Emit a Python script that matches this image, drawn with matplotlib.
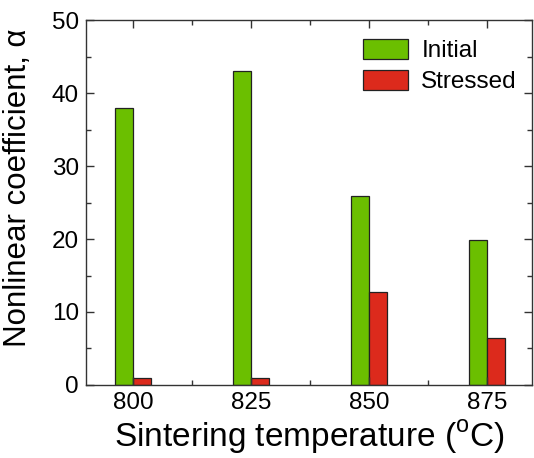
import numpy as np
import matplotlib
matplotlib.use('Agg')
import matplotlib.pyplot as plt
from matplotlib.ticker import MultipleLocator

plt.rcParams['font.family'] = ['Liberation Sans', 'DejaVu Sans']
plt.rcParams['mathtext.fontset'] = 'custom'
plt.rcParams['mathtext.rm'] = 'Liberation Sans'

# data
temps = ['800', '825', '850', '875']
initial = [38, 43, 25.9, 19.8]
stressed = [1.0, 1.0, 12.8, 6.4]

green = '#6bbf00'
red = '#dc2a1c'
edge = '#222222'

fig = plt.figure(figsize=(5.34, 4.58), dpi=100)
ax = fig.add_axes([0.161, 0.1594, 0.8353, 0.7969])

x = np.arange(len(temps))
w = 0.15
ax.bar(x - w / 2, initial, w, color=green, edgecolor=edge, linewidth=0.9, label='Initial')
ax.bar(x + w / 2, stressed, w, color=red, edgecolor=edge, linewidth=0.9, label='Stressed')

ax.set_xlim(-0.4, 3.38)
ax.set_ylim(0, 50)
ax.set_xticks(x)
ax.set_xticklabels(temps)
ax.xaxis.set_minor_locator(MultipleLocator(0.5))
ax.yaxis.set_major_locator(MultipleLocator(10))
ax.yaxis.set_minor_locator(MultipleLocator(5))

ax.tick_params(which='both', direction='in', top=True, right=True, color='#333333', width=1)
ax.tick_params(which='major', length=6, labelsize=17.5, pad=5)
ax.tick_params(which='minor', length=3.5)
for s in ax.spines.values():
    s.set_color('#333333')
    s.set_linewidth(1)

ax.set_xlabel(r'Sintering temperature ($^{\mathrm{o}}$C)', fontsize=24, labelpad=3)
ax.set_ylabel('Nonlinear coefficient, α', fontsize=22.5)
ax.yaxis.set_label_coords(-0.118, 0.54)

ax.legend(loc='upper left', bbox_to_anchor=(0.621, 0.948), frameon=False, fontsize=17.5,
          borderpad=0, borderaxespad=0, handlelength=1.85, handleheight=0.9,
          handletextpad=0.55, labelspacing=0.3)

fig.savefig('out.png', dpi=100)
